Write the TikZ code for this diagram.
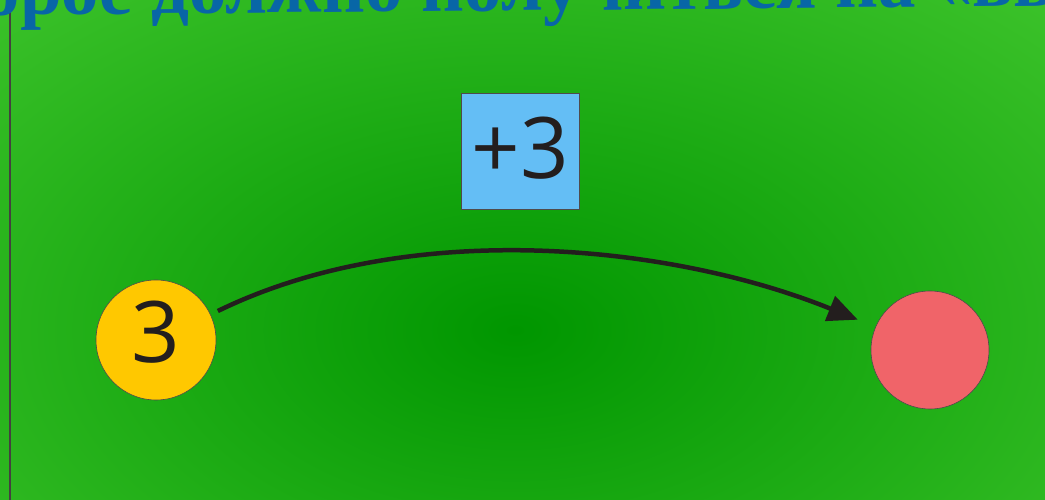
\documentclass[tikz,border=0pt]{standalone}
\usepackage{fontspec}
\setmainfont{Liberation Serif}
\newfontfamily\digitfont{Open Sans}
\usetikzlibrary{arrows.meta}
\definecolor{bgIn}{RGB}{0,150,0}
\definecolor{bgOut}{RGB}{78,208,55}
\definecolor{titleBlue}{RGB}{8,102,166}
\definecolor{coinYellow}{RGB}{255,200,0}
\definecolor{coinRed}{RGB}{240,100,105}
\definecolor{opBlue}{RGB}{100,190,245}
\definecolor{inkDark}{RGB}{35,30,30}
\pgfdeclareradialshading{slideglow}{\pgfpoint{0bp}{0bp}}{color(0bp)=(bgIn); color(36bp)=(bgOut); color(50bp)=(bgOut)}

\begin{document}
\begin{tikzpicture}[x=1pt, y=1pt,
    coin/.style={circle, draw=inkDark!80, line width=0.6pt, inner sep=0pt,
      font=\digitfont\fontsize{85}{85}\selectfont, text=inkDark},
    opbox/.style={rectangle, draw=inkDark!80, line width=0.6pt, fill=opBlue,
      minimum width=118pt, minimum height=116pt, inner sep=0pt,
      font=\digitfont\fontsize{85}{85}\selectfont, text=inkDark},
    slidetitle/.style={font=\bfseries\fontsize{75}{75}\selectfont,
      text=titleBlue, inner sep=0pt, rotate=0.5},
    flow/.style={inkDark, line width=4.5pt, -{Triangle[length=30pt,width=26pt]}}]
  \useasboundingbox (0,0) rectangle (1045,500);
  \clip (0,0) rectangle (1045,500);
  \shade[shading=slideglow] (-185,-250) rectangle (1215,590);
  \draw[inkDark!85, line width=2pt] (9.5,0) -- (9.5,500);

  % title, cut by the top edge
  \coordinate (t) at (20,485);
  \node[slidetitle, anchor=base east] (ttlA) at (t) {о};
  \node[slidetitle, anchor=base west] (ttlB) at (t) {рое должно получиться на «вв};

  \node[opbox, text depth=7pt] (plus) at (520,349) {+3};
  \node[coin, fill=coinYellow, minimum size=120pt, text depth=16pt] (three) at (156,160) {3};
  \node[coin, fill=coinRed, minimum size=118pt] (target) at (930,150) {};

  \draw[flow, shorten <=8pt, shorten >=19pt] (three.25) to[out=26, in=158, looseness=0.85] (target.157);
\end{tikzpicture}
\end{document}
